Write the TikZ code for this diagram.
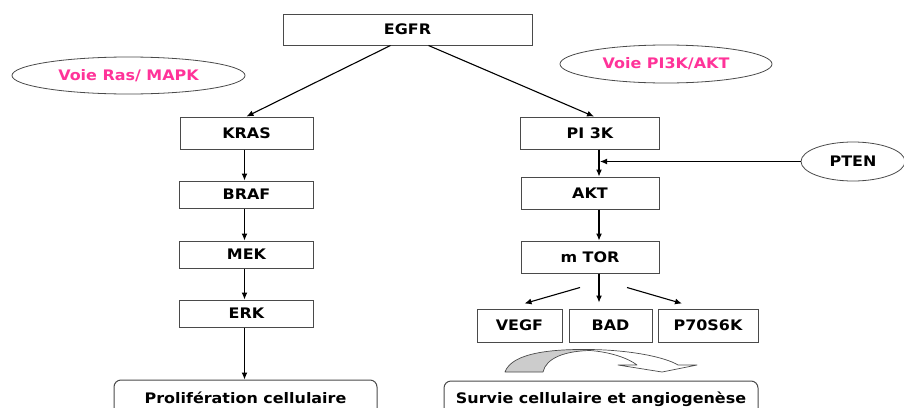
\documentclass[tikz,border=0pt]{standalone}
\usepackage{fontspec}
\setmainfont{DejaVu Sans}[FakeStretch=1.1]
\usetikzlibrary{arrows.meta,calc,shapes.geometric}
\definecolor{voie}{HTML}{FF3399}
\definecolor{edge}{HTML}{4A4A4A}
\begin{document}
\begin{tikzpicture}[x=1pt,y=-1pt,
  lbl/.style={font=\bfseries\fontsize{14.5}{16}\selectfont},
  box/.style={lbl, draw=edge, line width=1pt, fill=white, inner sep=0pt, text=black},
  result/.style={box, rounded corners=7pt},
  pathway/.style={lbl, ellipse, draw=edge, line width=0.8pt, inner sep=0pt, text=voie},
  regul/.style={lbl, ellipse, draw=edge, line width=0.8pt, inner sep=0pt, text=black},
  arr/.style={-{Latex[length=7pt,width=6pt]}, line width=1.1pt}]
\clip (0,0) rectangle (904,407);
\fill[white] (0,0) rectangle (904,407);

% receptor
\node[box, minimum width=249pt, minimum height=31pt] (egfr) at (407.5,29.5) {EGFR};

% pathway labels
\node[pathway, minimum width=233pt, minimum height=37pt] (ras) at (128.5,75.5) {Voie Ras/ MAPK};
\node[pathway, minimum width=212pt, minimum height=38pt] (pik) at (666,64) {Voie PI3K/AKT};

% Ras / MAPK cascade
\node[box, minimum width=133pt, minimum height=32pt] (kras) at (246.5,133) {KRAS};
\node[box, minimum width=134pt, minimum height=27pt] (braf) at (246.5,194.5) {BRAF};
\node[box, minimum width=134pt, minimum height=27pt] (mek) at (246.5,254.5) {MEK};
\node[box, minimum width=134pt, minimum height=27pt] (erk) at (246.5,313.5) {ERK};
\node[result, minimum width=263pt, minimum height=36pt] (prolif) at (245.5,398) {Prolifération cellulaire};
\coordinate (lcol) at (244.5,0);

% PI3K / AKT cascade
\node[box, minimum width=139pt, minimum height=32pt] (pi3k) at (590,133) {PI 3K};
\node[box, minimum width=138pt, minimum height=32pt] (akt) at (590,193) {AKT};
\node[box, minimum width=138pt, minimum height=32pt] (mtor) at (590,257) {m TOR};
\node[box, minimum width=85pt, minimum height=33pt] (vegf) at (519.5,325.5) {VEGF};
\node[box, minimum width=83pt, minimum height=33pt] (bad) at (610.5,325.5) {BAD};
\node[box, minimum width=100pt, minimum height=33pt] (p70) at (708,325.5) {P70S6K};
\node[result, minimum width=314pt, minimum height=36pt] (survie) at (601,399) {Survie cellulaire et angiogenèse};
\coordinate (rcol) at (599,0);

% inhibitor
\node[regul, minimum width=104pt, minimum height=39pt] (pten) at (853,161.5) {PTEN};
\coordinate (join) at (600,161.5);

% connectors
\draw[arr] ($(egfr.south)+(-17,0)$) -- (kras.north);
\draw[arr] ($(egfr.south)+(21,0)$) -- ($(pi3k.north)+(4,0)$);
\draw[arr] (kras.south -| lcol) -- (braf.north -| lcol);
\draw[arr] (braf.south -| lcol) -- (mek.north -| lcol);
\draw[arr] (mek.south -| lcol) -- (erk.north -| lcol);
\draw[arr] (erk.south -| lcol) -- (prolif.north -| lcol);

\draw[arr] (pi3k.south -| rcol) -- (akt.north -| rcol);
\draw[arr] (pten.west) -- (join);
\draw[arr] (akt.south -| rcol) -- (mtor.north -| rcol);
\draw[arr, shorten >=6pt] (mtor.south -| rcol) -- (bad.north -| rcol);
\draw[arr] ($(mtor.south)+(-10,14)$) -- ($(vegf.north)+(5,-5)$);
\draw[arr] ($(mtor.south)+(37,14)$) -- ($(p70.north)+(-26,-5)$);

% curved arrow towards the outcome
\begin{scope}
  \clip (495,340) rectangle (590,380);
  \fill[gray!40] (505,372) .. controls (512,352) and (555,349) .. (590,349.5)
    .. controls (630,350) and (665,357) .. (678,365) -- (697,365) -- (662,372)
    -- (618,365) -- (637,365) .. controls (628,358) and (610,352) .. (590,350.5)
    .. controls (565,351) and (546,358) .. (543,372) -- cycle;
\end{scope}
\draw[edge, line width=0.7pt, line join=round] (505,372) .. controls (512,352) and (555,349) .. (590,349.5)
    .. controls (630,350) and (665,357) .. (678,365) -- (697,365) -- (662,372)
    -- (618,365) -- (637,365) .. controls (628,358) and (610,352) .. (590,350.5)
    .. controls (565,351) and (546,358) .. (543,372) -- cycle;
\end{tikzpicture}
\end{document}
